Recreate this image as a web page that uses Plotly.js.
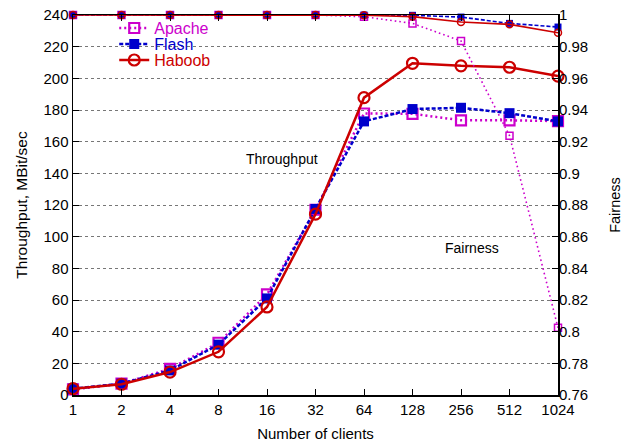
<!DOCTYPE html>
<html>
<head>
<meta charset="utf-8">
<script src="https://cdn.plot.ly/plotly-3.0.1.min.js"></script>
<style>html,body{margin:0;padding:0;background:#fff;}#chart{width:630px;height:445px;}</style>
</head>
<body>
<div id="chart"></div>
<script>
const clients = [1, 2, 4, 8, 16, 32, 64, 128, 256, 512, 1024];
const tickLabels = ["1", "2", "4", "8", "16", "32", "64", "128", "256", "512", "1024"];

const apacheThroughput = [3.5, 7.2, 16.5, 33, 63.5, 117, 177.8, 177.6, 173.5, 173.5, 173];
const flashThroughput  = [4.0, 7.2, 15.5, 31.8, 61, 117.5, 172.8, 180.6, 181.4, 178, 172.8];
const haboobThroughput = [4.0, 6.8, 14.5, 27.3, 55.6, 114.2, 187.8, 209.5, 207.9, 207, 201.4];

const apacheFairness = [1.0, 1.0, 1.0, 1.0, 1.0, 1.0, 0.9989, 0.9947, 0.9836, 0.9238, 0.8024];
const flashFairness  = [1.0, 1.0, 1.0, 1.0, 1.0, 1.0, 1.0, 0.9998, 0.9987, 0.9947, 0.9924];
const haboobFairness = [1.0, 1.0, 1.0, 1.0, 1.0, 1.0, 0.9998, 0.999, 0.9956, 0.9941, 0.9888];

const cApache = "#cc00cc", cFlash = "#0000cc", cHaboob = "#cc0000";

const traces = [
  {x: clients, y: apacheThroughput, name: "<span style='color:" + cApache + "'>Apache</span>", legend: "legend", mode: "lines+markers",
   line: {color: cApache, width: 2.5, dash: "2px,3px"}, marker: {symbol: "square-open", size: 10, color: cApache, line: {width: 2.2}}, cliponaxis: false},
  {x: clients, y: flashThroughput, name: "<span style='color:" + cFlash + "'>Flash</span>", legend: "legend2", mode: "lines+markers",
   line: {color: cFlash, width: 2.5, dash: "4px,2px"}, marker: {symbol: "square", size: 10, color: cFlash}, cliponaxis: false},
  {x: clients, y: haboobThroughput, name: "<span style='color:" + cHaboob + "'>Haboob</span>", legend: "legend3", mode: "lines+markers",
   line: {color: cHaboob, width: 2.5}, marker: {symbol: "circle-open", size: 11, color: cHaboob, line: {width: 2.2}}, cliponaxis: false},
  {x: clients, y: apacheFairness, yaxis: "y2", showlegend: false, mode: "lines+markers",
   line: {color: cApache, width: 1.6, dash: "1.6px,3px"}, marker: {symbol: "square-open", size: 7, color: cApache, line: {width: 1.5}}, cliponaxis: false},
  {x: clients, y: flashFairness, yaxis: "y2", showlegend: false, mode: "lines+markers",
   line: {color: cFlash, width: 1.6, dash: "4px,2px"}, marker: {symbol: "square", size: 7, color: cFlash}, cliponaxis: false},
  {x: clients, y: haboobFairness, yaxis: "y2", showlegend: false, mode: "lines+markers",
   line: {color: cHaboob, width: 1.6}, marker: {symbol: "circle-open", size: 7, color: cHaboob, line: {width: 1.5}}, cliponaxis: false}
];

const fontFam = "Liberation Sans, Arial, sans-serif";
const legendBase = {xanchor: "left", yanchor: "middle", bgcolor: "rgba(0,0,0,0)", borderwidth: 0,
                    font: {family: fontFam, size: 16}};
const layout = {
  width: 630, height: 445,
  margin: {l: 73, r: 72, t: 14, b: 50},
  paper_bgcolor: "#fff", plot_bgcolor: "#fff",
  font: {family: fontFam, size: 15, color: "#000"},
  showlegend: true,
  legend: Object.assign({x: 0.085, y: 0.963}, legendBase),
  legend2: Object.assign({x: 0.085, y: 0.921}, legendBase),
  legend3: Object.assign({x: 0.085, y: 0.879}, legendBase),
  xaxis: {type: "log", range: [0, Math.log10(1024)], tickvals: clients, ticktext: tickLabels,
          showgrid: false, zeroline: false, showline: true, linecolor: "#000", linewidth: 1.5, mirror: "ticks",
          ticks: "inside", ticklen: 6, tickcolor: "#000",
          title: {text: "Number of clients", font: {size: 15}, standoff: 12}},
  yaxis: {range: [0, 240], dtick: 20, showgrid: true, gridcolor: "#777", griddash: "dot", gridwidth: 1,
          zeroline: false, showline: true, linecolor: "#000", linewidth: 1.5, mirror: true,
          ticks: "inside", ticklen: 6, tickcolor: "#000",
          title: {text: "Throughput, MBit/sec", font: {size: 15.5}, standoff: 12}},
  yaxis2: {overlaying: "y", side: "right", range: [0.76, 1.0], dtick: 0.02, showgrid: false, zeroline: false,
           showline: false, ticks: "inside", ticklen: 6, tickcolor: "#000",
           tickformat: "~g",
           title: {text: "Fairness", font: {size: 14.5}, standoff: 22}},
  shapes: [
    {type: "rect", xref: "paper", yref: "paper", x0: 0.003, x1: 0.268, y0: 0.86, y1: 0.975,
     fillcolor: "#fff", line: {width: 0}, layer: "between"}
  ],
  annotations: [
    {xref: "paper", yref: "paper", x: 0.431, y: 0.622, text: "Throughput", showarrow: false, font: {size: 14}},
    {xref: "paper", yref: "paper", x: 0.882, y: 0.388, text: "Fairness", showarrow: false, font: {size: 14}}
  ]
};

Plotly.newPlot("chart", traces, layout, {displayModeBar: false, staticPlot: true});
</script>
</body>
</html>
